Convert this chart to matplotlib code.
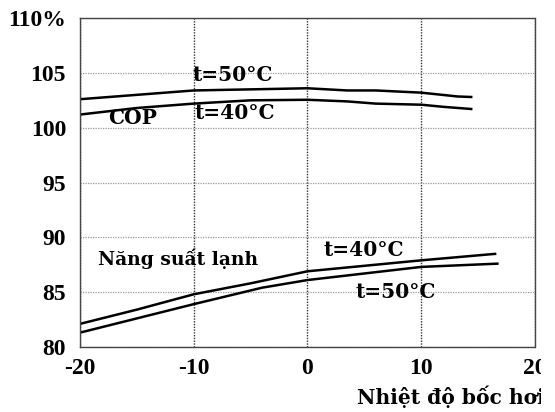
import matplotlib
matplotlib.use("Agg")
import matplotlib.pyplot as plt
from matplotlib.transforms import Bbox, TransformedBbox

# evaporating temperature (deg C) and relative values (%)
cop50_x = [-20, -15, -10, -5, 0, 3.5, 6, 10, 12.3, 13.2, 14.5]
cop50_y = [102.6, 103.0, 103.4, 103.5, 103.6, 103.4, 103.4, 103.2, 102.95, 102.85, 102.8]
cop40_x = [-20, -15, -10, -5, 0, 3.5, 6, 10, 12, 14.5]
cop40_y = [101.2, 101.8, 102.2, 102.5, 102.55, 102.4, 102.2, 102.1, 101.9, 101.7]
cap40_x = [-20, -15, -10, -5, 0, 5, 10, 16.6]
cap40_y = [82.1, 83.4, 84.8, 85.8, 86.9, 87.4, 87.9, 88.5]
cap50_x = [-20, -15, -10, -4, 0, 5, 10, 16.8]
cap50_y = [81.3, 82.6, 83.9, 85.4, 86.1, 86.7, 87.3, 87.6]

xticks = [-20, -10, 0, 10, 20]
yticks = [80, 85, 90, 95, 100, 105, 110]
yticklabels = ["80", "85", "90", "95", "100", "105", "110%"]

plt.rcParams["font.family"] = ["Liberation Serif", "DejaVu Serif"]
plt.rcParams["font.weight"] = "bold"
wide = ["DejaVu Serif"]

fig = plt.figure(figsize=(5.55, 4.12), dpi=100)
ax = fig.add_axes([0.144, 0.158, 0.82, 0.798])

for xs, ys in [(cop50_x, cop50_y), (cop40_x, cop40_y), (cap40_x, cap40_y), (cap50_x, cap50_y)]:
    ax.plot(xs, ys, color="black", lw=1.8, solid_capstyle="butt")

ax.set_xlim(-20, 20)
ax.set_ylim(80, 110)
ax.set_xticks(xticks)
ax.set_xticklabels([str(t) for t in xticks])
ax.set_yticks(yticks)
ax.set_yticklabels(yticklabels)
ax.tick_params(length=0, labelsize=17, pad=10)
ax.tick_params(axis="x", pad=8)

ax.yaxis.grid(True, color="#9a9a9a", ls=(0, (1, 1)), lw=0.9)
ax.xaxis.grid(True, color="#333333", ls=(0, (1, 1)), lw=1.0)
for s in ax.spines.values():
    s.set_color("#444444")
    s.set_linestyle((0, (1, 1)))
    s.set_linewidth(1.0)

kw = dict(fontsize=14.5, va="center", ha="left", family=wide)
ax.text(-10.1, 104.85, "t=50°C", **kw)
ax.text(-9.9, 101.3, "t=40°C", **kw)
ax.text(-17.5, 100.85, "COP", **kw)
ax.text(-18.4, 88.0, "Năng suất lạnh", fontsize=13.5, va="center", ha="left", family=wide)
ax.text(1.4, 88.85, "t=40°C", **kw)
ax.text(4.2, 85.05, "t=50°C", **kw)

xl = fig.text(357 / 555, 1 - 397 / 412, "Nhiệt độ bốc hơi", fontsize=14.6,
              ha="left", va="center", family=wide)

# the scanned picture is cut at the right edge
clip = TransformedBbox(Bbox([[0, 0], [541 / 555, 1]]), fig.transFigure)
for lab in ax.get_xticklabels() + [xl]:
    lab.set_clip_box(clip)
    lab.set_clip_on(True)

fig.savefig("out.png", dpi=100)
